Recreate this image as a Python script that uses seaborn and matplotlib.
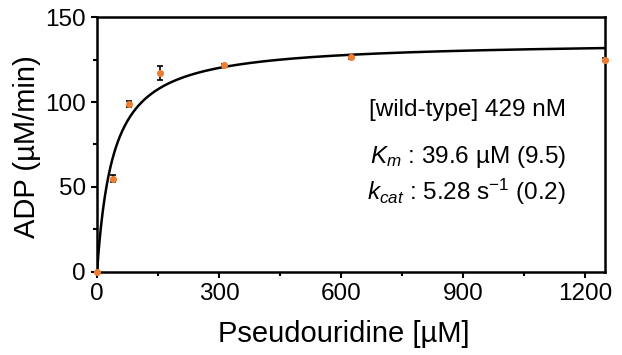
import numpy as np
import matplotlib
matplotlib.use("Agg")
import matplotlib.pyplot as plt
import seaborn as sns
import pandas as pd

# Data
substrate_uM = [0, 39, 78, 156, 312, 625, 1250]
adp_rate = [0, 54.8, 98.8, 117.0, 121.5, 126.2, 125.0]
adp_err = [0.5, 2.0, 1.6, 4.0, 1.0, 1.0, 1.0]

# Fit parameters shown on the chart
km_uM = 39.6
kcat_s = 5.28
enzyme_uM = 0.429

x_ticks = [0, 300, 600, 900, 1200]
y_ticks = [0, 50, 100, 150]

sns.set_theme(style="ticks")
plt.rcParams['font.family'] = ['Liberation Sans', 'DejaVu Sans']
plt.rcParams['mathtext.fontset'] = 'custom'
plt.rcParams['mathtext.rm'] = 'Liberation Sans'
plt.rcParams['mathtext.it'] = 'Liberation Sans:italic'
plt.rcParams['text.color'] = 'black'
plt.rcParams['axes.labelcolor'] = 'black'
plt.rcParams['xtick.color'] = 'black'
plt.rcParams['ytick.color'] = 'black'

fig = plt.figure(figsize=(6.22, 3.55), dpi=100)
ax = fig.add_axes([0.156, 0.234, 0.817, 0.718])

vmax = kcat_s * enzyme_uM * 60
xfit = np.linspace(0, 1250, 800)
fit = pd.DataFrame({"S": xfit, "v": vmax * xfit / (km_uM + xfit)})
sns.lineplot(data=fit, x="S", y="v", ax=ax, color="black", lw=1.8, zorder=2)

df = pd.DataFrame({"S": substrate_uM, "v": adp_rate, "e": adp_err})
ax.errorbar(df["S"], df["v"], yerr=df["e"], fmt="none", ecolor="black",
            elinewidth=1.2, capsize=2.5, capthick=1.2, zorder=3)
sns.scatterplot(data=df, x="S", y="v", ax=ax, color="#ED7D31", s=26,
                marker="o", edgecolor="#ED7D31", linewidth=0, zorder=4, clip_on=False)

ax.set_xlim(0, 1250)
ax.set_ylim(0, 150)
ax.set_xticks(x_ticks)
ax.set_yticks(y_ticks)
ax.set_xticks([150, 450, 750, 1050], minor=True)
ax.set_yticks([25, 75, 125], minor=True)
ax.tick_params(axis='both', which='major', labelsize=17.5, length=4, width=1.5, direction='out', pad=4)
ax.tick_params(axis='both', which='minor', length=3, width=1.5, direction='out')
for s in ax.spines.values():
    s.set_linewidth(1.8)
    s.set_color('black')

ax.set_xlabel("Pseudouridine [µM]", fontsize=21)
ax.set_ylabel("ADP (µM/min)", fontsize=21)
ax.xaxis.set_label_coords(0.486, -0.19)
ax.yaxis.set_label_coords(-0.11, 0.49)

ax.text(0.923, 0.636, "[wild-type] 429 nM", transform=ax.transAxes, ha='right', va='center', fontsize=17.5)
ax.text(0.923, 0.452, r"$K_{m}$ : 39.6 µM (9.5)", transform=ax.transAxes, ha='right', va='center', fontsize=17.5)
ax.text(0.923, 0.315, r"$k_{cat}$ : 5.28 s$^{\mathrm{-1}}$ (0.2)", transform=ax.transAxes, ha='right', va='center', fontsize=17.5)

fig.savefig("out.png", dpi=100)
